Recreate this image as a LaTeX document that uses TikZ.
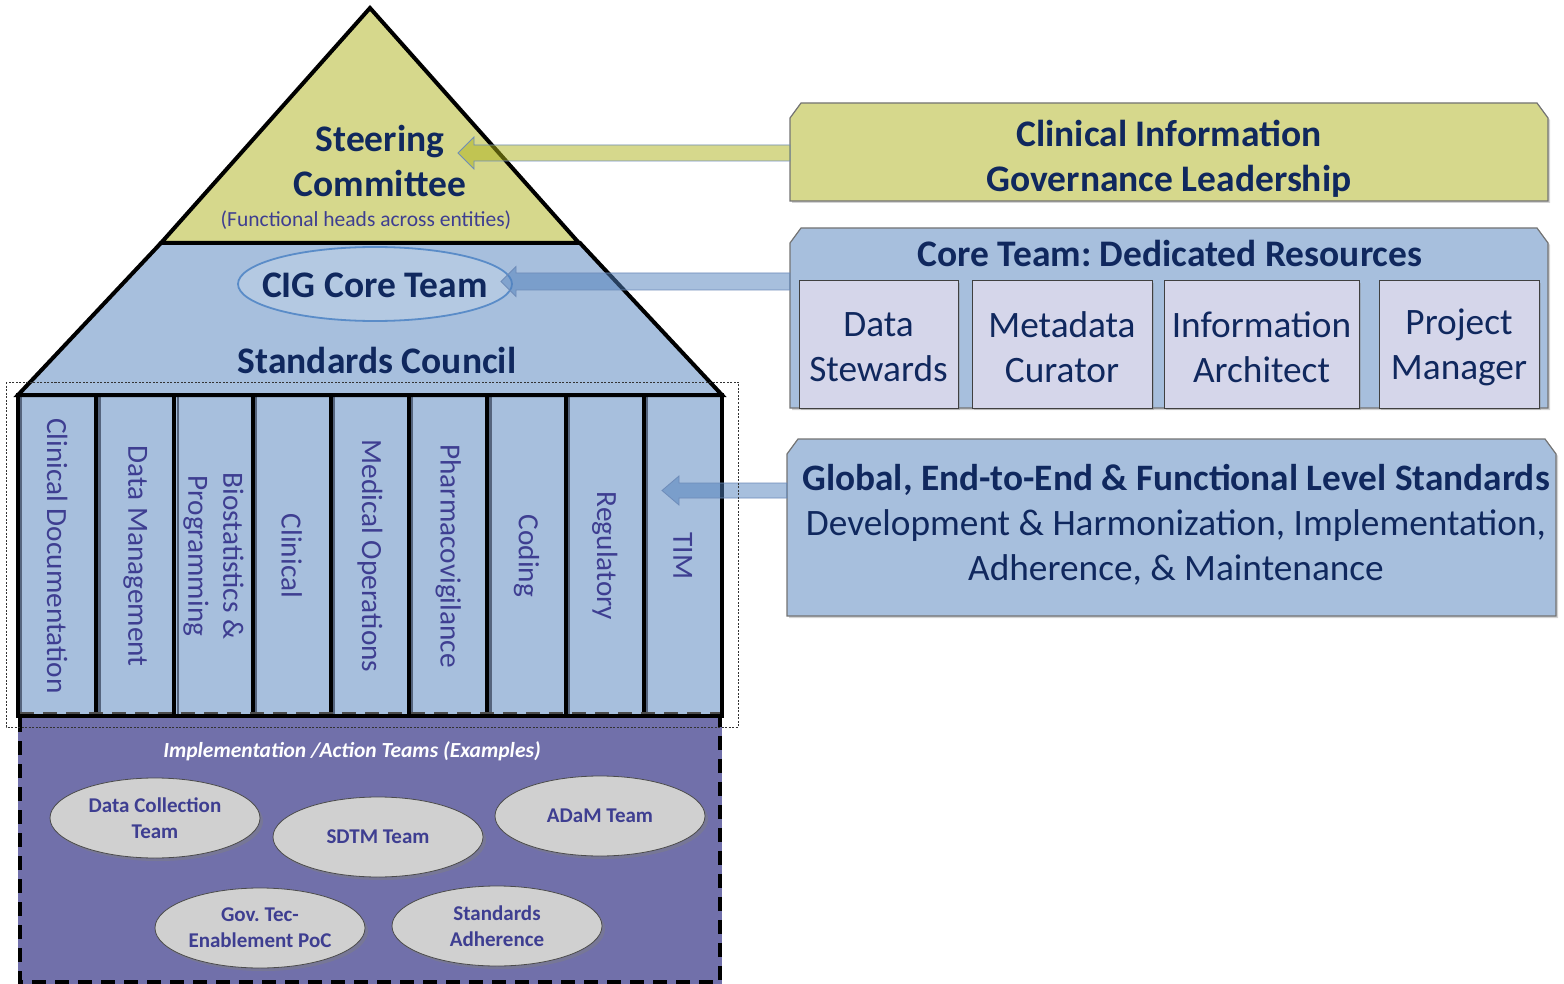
\documentclass[tikz,border=0pt]{standalone}
\usepackage{fontspec}
\setmainfont{Carlito}
\usetikzlibrary{shapes.geometric,shadows,calc}
\definecolor{ylw}{RGB}{214,216,140}
\definecolor{blu}{RGB}{167,191,221}
\definecolor{lav}{RGB}{213,214,234}
\definecolor{purp}{RGB}{113,112,170}
\definecolor{navy}{RGB}{16,40,94}
\definecolor{ptxt}{RGB}{62,62,145}
\definecolor{egray}{RGB}{208,208,208}
\definecolor{aout}{RGB}{110,140,185}
\definecolor{ayl}{RGB}{173,177,25}
\definecolor{abl}{RGB}{79,127,187}
\definecolor{cigline}{RGB}{90,140,200}
\definecolor{pshade}{RGB}{85,100,125}
\newcommand\fs[2]{\fontsize{#1}{#2}\selectfont}
\frenchspacing
\begin{document}
\begin{tikzpicture}[x=1pt,y=-1pt,
  pyr/.style={draw=black,line width=4pt,line join=miter},
  pillar/.style={fill=blu,draw=black,line width=4pt},
  ptext/.style={rotate=-90,text=ptxt,font=\fs{29.3}{35},align=center,inner sep=0},
  rbox/.style={draw=black!55,line width=1.2pt,drop shadow={shadow xshift=2pt,shadow yshift=-2pt,opacity=0.35}},
  ibox/.style={fill=lav,draw=black!75,line width=1pt,drop shadow={shadow xshift=2pt,shadow yshift=-2pt,opacity=0.35}},
  btitle/.style={text=navy,font=\bfseries\fs{37.5}{45},align=center,inner sep=0},
  rtext/.style={text=navy,font=\fs{37.3}{45},align=center,inner sep=0},
  team/.style={ellipse,fill=egray,draw=black!70,line width=0.8pt,minimum width=210pt,minimum height=80pt,inner sep=0,
     text=ptxt,font=\bfseries\fs{21}{26},align=center,drop shadow={shadow xshift=3pt,shadow yshift=-3pt,opacity=0.45}},
  yarrow/.style={fill=ayl,fill opacity=0.5,draw=aout,line width=0.8pt},
  barrow/.style={fill=abl,fill opacity=0.5,draw=aout,line width=0.8pt}]
\useasboundingbox (0,0) rectangle (1564,984);

% ---------- purple implementation area ----------
\fill[purp] (18,716) rectangle (722,984);
\draw[black,line width=4pt,dash pattern=on 14pt off 9pt] (20,718) -- (20,982) -- (720,982) -- (720,718);
\node[text=white,font=\bfseries\itshape\fs{21.5}{25},inner sep=0] (impl) at (352,751) {Implementation /Action Teams (Examples)};
\node[team] (dc) at (155,818) {Data Collection\\Team};
\node[team] (sdtm) at (378,837) {SDTM Team};
\node[team] (adam) at (600,816) {ADaM Team};
\node[team] (gov) at (260,928) {Gov. Tec-\\Enablement PoC};
\node[team] (sa) at (497,926) {Standards\\Adherence};

% ---------- pillars ----------
\foreach \i in {0,...,8}{
  \draw[pillar] ({18+\i*78.22},395) rectangle ({18+(\i+1)*78.22},716);
  \draw[pshade,line width=2.2pt] ({18+\i*78.22+3.2},397) -- ({18+\i*78.22+3.2},714);
}
\draw[black,line width=4pt] (16,716) -- (724,716);
\draw[black!70,line width=2pt,dash pattern=on 14pt off 9pt] (20,713) -- (720,713);
\foreach \i/\t/\n in {0/Clinical Documentation/p1,1/Data Management/p2,2/{Biostatistics \&\\Programming}/p3,3/Clinical/p4,4/Medical Operations/p5,5/Pharmacovigilance/p6,6/Coding/p7,7/Regulatory/p8,8/TIM/p9}{
  \node[ptext] (\n) at ({18+(\i+0.5)*78.22},556) {\t};
}

% ---------- pyramid ----------
\draw[pyr,fill=blu] (161,243) -- (580,243) -- (722,395) -- (18,395) -- cycle;
\draw[pyr,fill=ylw] (370,8) -- (579,243) -- (161,243) -- cycle;
\node[btitle] (steer) at (380,161) {Steering\\Committee};
\node[text=ptxt,font=\fs{21.5}{25},inner sep=0] (func) at (366,220) {(Functional heads across entities)};
\node[ellipse,draw=cigline,line width=1.8pt,fill=blu!85!white,minimum width=274pt,minimum height=74pt,inner sep=0] (cige) at (375,284) {};
\node[btitle] (cig) at (375,285) {CIG Core Team};
\node[btitle] (sc) at (377,360) {Standards Council};

% ---------- right boxes ----------
\draw[rbox,fill=ylw] (790,201) -- (790,118) -- (801,103) -- (1537,103) -- (1548,118) -- (1548,201) -- cycle;
\node[btitle] (lead) at (1169,159) {Clinical Information\\Governance Leadership};

\draw[rbox,fill=blu] (790,408) -- (790,243) -- (801,228) -- (1537,228) -- (1548,243) -- (1548,408) -- cycle;
\node[btitle] (core) at (1170,253) {Core Team: Dedicated Resources};
\draw[ibox] (799,281) rectangle (958,408);
\draw[ibox] (972,281) rectangle (1152,408);
\draw[ibox] (1164,281) rectangle (1359,408);
\draw[ibox] (1379,281) rectangle (1539,408);
\node[rtext] (ds) at (878.5,347) {Data\\Stewards};
\node[rtext] (mc) at (1062,347) {Metadata\\Curator};
\node[rtext] (ia) at (1261.5,347) {Information\\Architect};
\node[rtext] (pm) at (1459,347) {Project\\Manager};

\draw[rbox,fill=blu] (787,616) -- (787,454) -- (798,439) -- (1545,439) -- (1556,454) -- (1556,616) -- cycle;
\node[rtext] (glob) at (1176,525) {\textbf{Global, End-to-End \& Functional Level Standards}\\Development \& Harmonization, Implementation,\\Adherence, \& Maintenance};

% ---------- block arrows ----------
\coordinate (a1s) at (790,153);
\coordinate (a1e) at (458,153);
\draw[yarrow] (a1e) -- ($(a1e)+(16,-16)$) -- ($(a1e)+(16,-8)$) -- ($(a1s)+(0,-8)$) -- ($(a1s)+(0,8)$) -- ($(a1e)+(16,8)$) -- ($(a1e)+(16,16)$) -- cycle;
\coordinate (a2s) at (790,281.5);
\coordinate (a2e) at (501,281.5);
\draw[barrow] (a2e) -- ($(a2e)+(15,-15)$) -- ($(a2e)+(15,-8.5)$) -- ($(a2s)+(0,-8.5)$) -- ($(a2s)+(0,8.5)$) -- ($(a2e)+(15,8.5)$) -- ($(a2e)+(15,15)$) -- cycle;
\coordinate (a3s) at (787,490.5);
\coordinate (a3e) at (662,490.5);
\draw[barrow] (a3e) -- ($(a3e)+(17,-14.5)$) -- ($(a3e)+(17,-7.5)$) -- ($(a3s)+(0,-7.5)$) -- ($(a3s)+(0,7.5)$) -- ($(a3e)+(17,7.5)$) -- ($(a3e)+(17,14.5)$) -- cycle;

% ---------- dotted frame ----------
\draw[black!80,line width=0.8pt,dash pattern=on 2pt off 1.5pt] (6,382) rectangle (738,727);
\end{tikzpicture}
\end{document}
